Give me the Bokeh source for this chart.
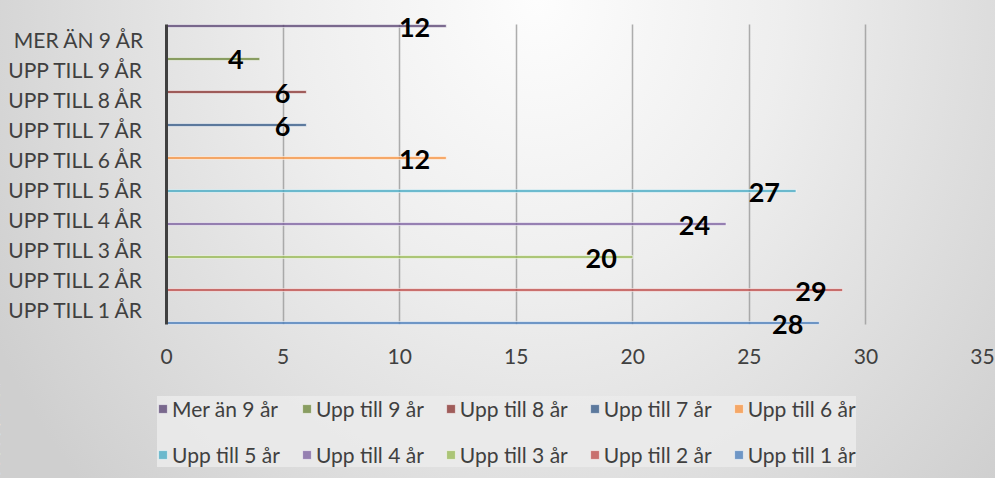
from bokeh.plotting import figure
from bokeh.layouts import column
from bokeh.models import (FactorRange, Range1d, ColumnDataSource, Legend, LegendItem,
                          SingleIntervalTicker, InlineStyleSheet)
from bokeh.transform import dodge
from bokeh.core.properties import value
from bokeh.embed import file_html
from bokeh.resources import INLINE

# ---- data ----
categories = ["UPP TILL 1 ÅR", "UPP TILL 2 ÅR", "UPP TILL 3 ÅR", "UPP TILL 4 ÅR",
              "UPP TILL 5 ÅR", "UPP TILL 6 ÅR", "UPP TILL 7 ÅR", "UPP TILL 8 ÅR",
              "UPP TILL 9 ÅR", "MER ÄN 9 ÅR"]
series_names = ["Upp till 1 år", "Upp till 2 år", "Upp till 3 år", "Upp till 4 år",
                "Upp till 5 år", "Upp till 6 år", "Upp till 7 år", "Upp till 8 år",
                "Upp till 9 år", "Mer än 9 år"]
values = [28, 29, 20, 24, 27, 12, 6, 6, 4, 12]
colors = ["#4F81BD", "#C0504D", "#9BBB59", "#8064A2", "#4BACC6",
          "#F79646", "#385D8A", "#8C3836", "#71893F", "#5C4776"]
x_ticks_step = 5
x_max = 35

FONT = "Lato"
TXT = "#404040"
PAD = 0.4  # extra room (in category units) so data labels are not clipped

p = figure(width=995, height=380, output_backend="svg", toolbar_location=None,
           y_range=FactorRange(factors=categories, range_padding=PAD,
                               range_padding_units="absolute"),
           x_range=Range1d(0, x_max),
           min_border_left=166, min_border_right=13, min_border_top=12, min_border_bottom=44)
p.background_fill_alpha = 0
p.border_fill_alpha = 0
p.outline_line_color = None

n = len(series_names)
slot = 1.0 / n
bar_style = dict(fill_alpha=0.8, line_color="white", line_alpha=0.55, line_width=1)
for k in range(n):
    src = ColumnDataSource(dict(cat=[categories[k]], val=[values[k]], lab=[str(values[k])]))
    off = -0.5 + slot * (k + 0.5)
    p.hbar(y=dodge("cat", off, range=p.y_range), right="val", left=0, height=slot,
           source=src, fill_color=colors[k], **bar_style)
    p.text(x="val", y=dodge("cat", off, range=p.y_range), text="lab", source=src,
           text_align="right", text_baseline="middle", x_offset=-16, y_offset=1,
           text_font=value(FONT), text_font_style="bold", text_font_size="27px",
           text_color="black")

# axes
p.xaxis.ticker = SingleIntervalTicker(interval=x_ticks_step)
p.xaxis.axis_line_color = None
p.xaxis.major_tick_line_color = None
p.xaxis.minor_tick_line_color = None
p.xaxis.major_label_standoff = 6
p.xaxis.major_label_text_font = FONT
p.xaxis.major_label_text_font_size = "21px"
p.xaxis.major_label_text_color = TXT

p.yaxis.axis_line_color = "#404040"
p.yaxis.axis_line_width = 3
p.yaxis.bounds = (0, len(categories))
p.yaxis.major_tick_line_color = None
p.yaxis.minor_tick_line_color = None
p.yaxis.major_label_standoff = 16
p.yaxis.major_label_text_font = FONT
p.yaxis.major_label_text_font_size = "21px"
p.yaxis.major_label_text_color = TXT

p.xgrid.ticker = SingleIntervalTicker(interval=x_ticks_step)
p.xgrid.cross_bounds = (0, len(categories))
p.xgrid.grid_line_color = "#9a9a9a"
p.xgrid.grid_line_width = 1.5
p.xgrid.grid_line_alpha = 0.8
p.ygrid.grid_line_color = None

# ---- legend panel (separate figure; its bars lie outside its visible range) ----
lg = figure(width=995, height=98, output_backend="svg", toolbar_location=None,
            x_range=Range1d(1000, 1001), y_range=FactorRange(factors=categories),
            min_border=0)
lg.frame_align = False
lg.background_fill_alpha = 0
lg.border_fill_alpha = 0
lg.outline_line_color = None
lg.axis.visible = False
lg.grid.visible = False
lg_renderers = []
for k in range(n):
    src = ColumnDataSource(dict(cat=[categories[k]], val=[values[k]]))
    r = lg.hbar(y="cat", right="val", left=0, height=slot, source=src,
                fill_color=colors[k], **bar_style)
    lg_renderers.append(r)

items = [LegendItem(label=series_names[k], renderers=[lg_renderers[k]])
         for k in reversed(range(n))]
legend = Legend(items=items, orientation="horizontal", nrows=2, location=(157, 11),
                background_fill_color="#ebebeb", background_fill_alpha=0.85,
                border_line_color=None,
                label_text_font=FONT, label_text_font_size="21px", label_text_color=TXT,
                glyph_width=11, glyph_height=11, label_standoff=4, label_width=107,
                spacing=21, padding=12, margin=0, label_height=23)
lg.add_layout(legend, "center")

css = InlineStyleSheet(css=":host { background: radial-gradient(ellipse 62% 150% at 54% 0%, #fdfdfd 0%, #eeeeee 40%, #dcdcdc 75%, #cfcfcf 100%); }")
layout = column(p, lg, stylesheets=[css])

open("out.html", "w").write(file_html(layout, INLINE))
